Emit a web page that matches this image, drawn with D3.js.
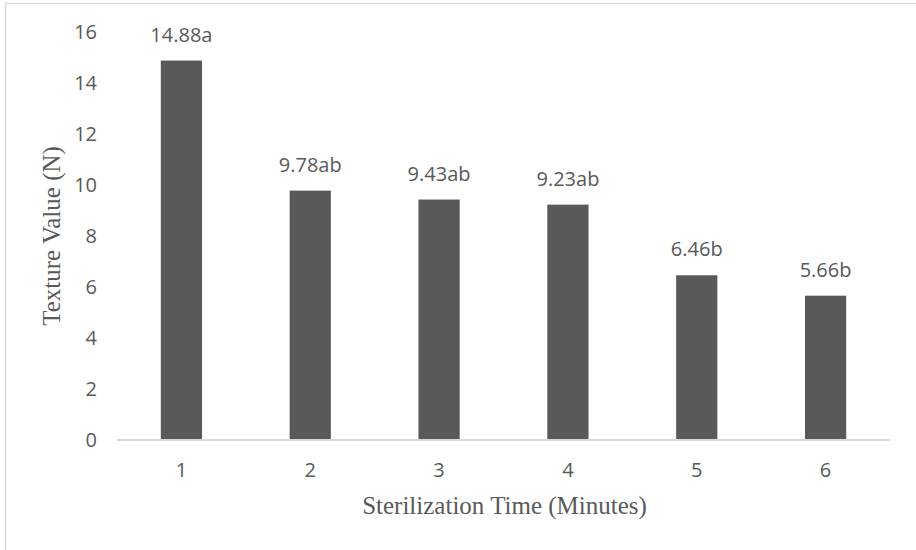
<!DOCTYPE html>
<html>
<head>
<meta charset="utf-8">
<script src="https://cdn.jsdelivr.net/npm/d3@7"></script>
<style>
  html, body { margin: 0; padding: 0; background: #fff; }
  svg { display: block; }
</style>
</head>
<body>
<script>
const categories = ["1", "2", "3", "4", "5", "6"];
const values = [14.88, 9.78, 9.43, 9.23, 6.46, 5.66];
const labels = ["14.88a", "9.78ab", "9.43ab", "9.23ab", "6.46b", "5.66b"];
const yTicks = [0, 2, 4, 6, 8, 10, 12, 14, 16];
const xTitle = "Sterilization Time (Minutes)";
const yTitle = "Texture Value (N)";

const W = 916, H = 550;
const margin = { left: 117, right: 26, top: 32, bottom: 110 };
const svg = d3.select("body").append("svg").attr("width", W).attr("height", H);

// outer chart border (cropped at right/bottom)
svg.append("rect").attr("x", 5.5).attr("y", 3.5).attr("width", W + 10).attr("height", H + 10)
  .attr("fill", "none").attr("stroke", "#d9d9d9").attr("stroke-width", 1.5);

const x = d3.scaleBand().domain(categories).range([margin.left, W - margin.right]).paddingInner(0.68).paddingOuter(0.34);
const y = d3.scaleLinear().domain([0, 16]).range([H - margin.bottom, margin.top]);

const numFont = "'Open Sans', 'Liberation Sans', sans-serif";
const serif = "'Liberation Serif', 'DejaVu Serif', serif";
const textColor = "#595959";
const numSize = 20;

// y axis (labels only)
const yAxis = d3.axisLeft(y).tickValues(yTicks).tickSize(0).tickPadding(20);
const gy = svg.append("g").attr("transform", `translate(${margin.left},0)`).call(yAxis);
gy.select(".domain").remove();
gy.selectAll("text").attr("font-family", numFont).attr("font-size", numSize).attr("fill", textColor);

// bars
svg.append("g").selectAll("rect").data(values).join("rect")
  .attr("x", (d, i) => x(categories[i]))
  .attr("width", x.bandwidth())
  .attr("y", d => y(d))
  .attr("height", d => y(0) - y(d))
  .attr("fill", "#595959");

// x axis
const xAxis = d3.axisBottom(x).tickSize(0).tickPadding(23);
const gx = svg.append("g").attr("transform", `translate(0,${y(0)})`).call(xAxis);
gx.select(".domain").attr("stroke", "#d9d9d9").attr("stroke-width", 2)
  .attr("d", `M${margin.left},0H${W - margin.right}`);
gx.selectAll("text").attr("font-family", numFont).attr("font-size", numSize).attr("fill", textColor);

// data labels
svg.append("g").selectAll("text").data(values).join("text")
  .attr("x", (d, i) => x(categories[i]) + x.bandwidth() / 2)
  .attr("y", d => y(d) - 19)
  .attr("text-anchor", "middle")
  .attr("font-family", numFont).attr("font-size", numSize).attr("fill", textColor)
  .text((d, i) => labels[i]);

// axis titles
svg.append("text")
  .attr("x", (margin.left + W - margin.right) / 2 + 1)
  .attr("y", 514)
  .attr("text-anchor", "middle")
  .attr("font-family", serif).attr("font-size", 25).attr("fill", textColor)
  .text(xTitle);

svg.append("text")
  .attr("transform", `translate(60,${(y(0) + y(16)) / 2}) rotate(-90)`)
  .attr("text-anchor", "middle")
  .attr("font-family", serif).attr("font-size", 25).attr("fill", textColor)
  .text(yTitle);
</script>
</body>
</html>
